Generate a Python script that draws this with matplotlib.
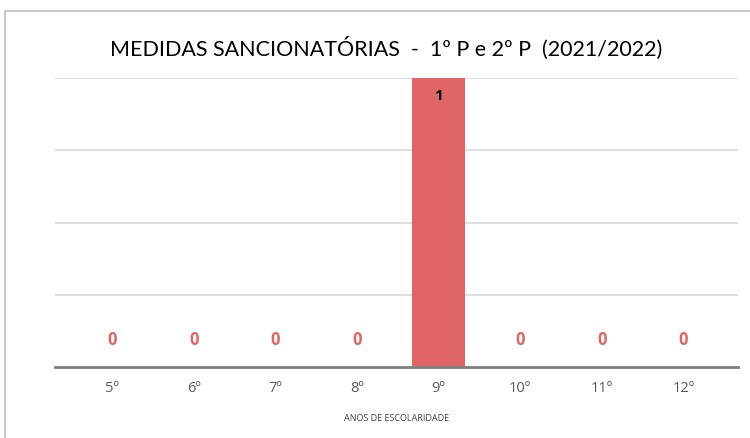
import numpy as np
import matplotlib
matplotlib.use("Agg")
from matplotlib import pyplot as plt
from matplotlib.patches import Rectangle

anos = ["5º", "6º", "7º", "8º", "9º", "10º", "11º", "12º"]
medidas = [0, 0, 0, 0, 1, 0, 0, 0]

bar_color = "#E06666"

fig = plt.figure(figsize=(7.5, 4.39), dpi=100)
fig.patches.append(Rectangle((5/750, -0.1), 1.0, 1 - 12/439 + 0.1, transform=fig.transFigure,
                             fill=False, edgecolor="#BDBDBD", linewidth=1.2))
ax = fig.add_axes([55/750, 1 - 368/439, 683/750, 289/439])

x = np.arange(len(anos))
ax.bar(x, medidas, width=0.64, color=bar_color, zorder=3)
for xi, v in zip(x, medidas):
    if v == 0:
        ax.text(xi, 0.098, str(v), ha="center", va="center", color=bar_color,
                fontsize=12, fontweight="bold", family="Open Sans")
    else:
        ax.text(xi, v - 0.06, str(v), ha="center", va="center", color="black",
                fontsize=11, fontweight="bold", family="Open Sans")

ax.set_xlim(-0.7, 7.67)
ax.set_ylim(0, 1)
ax.set_yticks([0, 0.25, 0.5, 0.75, 1.0])
ax.yaxis.grid(True, color="#D9D9D9", linewidth=1.2, zorder=0)
ax.tick_params(axis="y", left=False, labelleft=False)
ax.tick_params(axis="x", bottom=False, pad=6)
ax.set_xticks(x)
ax.set_xticklabels(anos, fontsize=10.5, color="#595959", family="Open Sans")
for s in ["top", "right", "left"]:
    ax.spines[s].set_visible(False)
ax.spines["bottom"].set_color("#7F7F7F")
ax.spines["bottom"].set_linewidth(2)
ax.spines["bottom"].set_zorder(4)

ax.set_xlabel("ANOS DE ESCOLARIDADE", fontsize=6.5, color="#404040", family="Open Sans", labelpad=13)
fig.text(386/750, 1 - 48/439, "MEDIDAS SANCIONATÓRIAS  -  1º P e 2º P  (2021/2022)",
         ha="center", va="center", fontsize=15.5, color="black", family="Lato")

fig.savefig("out.png", dpi=100)
